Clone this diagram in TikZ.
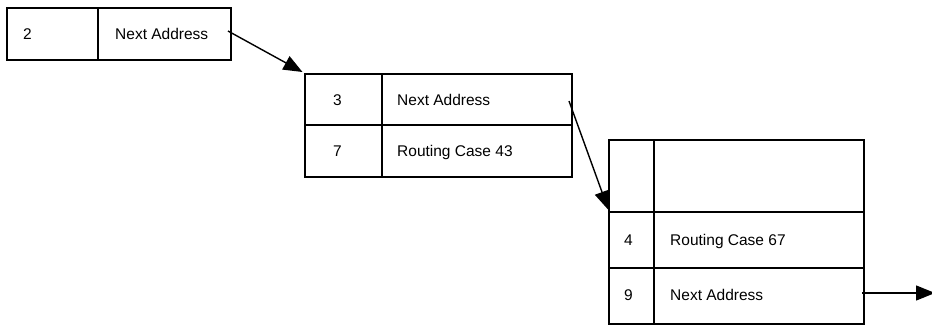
\documentclass[tikz,border=0pt]{standalone}
\usepackage{fontspec}
\setmainfont{Liberation Sans}
\usetikzlibrary{arrows.meta}
\tikzset{
  cell/.style={draw=black, line width=1.8pt, rectangle, inner sep=0pt, outer sep=0pt, anchor=north west},
  lbl/.style={anchor=base west, inner sep=0pt, font=\fontsize{15.5}{18}\selectfont},
  link/.style={draw=black, line width=1.4pt, -{Triangle[length=19pt,width=15pt]}}
}
\begin{document}
\begin{tikzpicture}[x=1pt,y=-1pt]
\useasboundingbox (0,0) rectangle (932,325);
% box 1
\node[cell, minimum width=91pt, minimum height=52pt] (c11) at (7,8) {};
\node[cell, minimum width=133pt, minimum height=52pt] (c12) at (98,8) {};
\node[lbl] (t11) at (23,39.5) {2};
\node[lbl] (t12) at (115,39.5) {Next Address};
% box 2
\node[cell, minimum width=77pt, minimum height=51pt] (c21) at (305,74) {};
\node[cell, minimum width=190pt, minimum height=51pt] (c22) at (382,74) {};
\node[cell, minimum width=77pt, minimum height=52pt] (c23) at (305,125) {};
\node[cell, minimum width=190pt, minimum height=52pt] (c24) at (382,125) {};
\node[lbl] (t21) at (333,105) {3};
\node[lbl] (t22) at (397,105) {Next Address};
\node[lbl] (t23) at (333,156.5) {7};
\node[lbl] (t24) at (397,156.5) {Routing Case 43};
% box 3
\node[cell, minimum width=45pt, minimum height=72pt] (c31) at (609,140) {};
\node[cell, minimum width=210pt, minimum height=72pt] (c32) at (654,140) {};
\node[cell, minimum width=45pt, minimum height=56pt] (c33) at (609,212) {};
\node[cell, minimum width=210pt, minimum height=56pt] (c34) at (654,212) {};
\node[cell, minimum width=45pt, minimum height=56pt] (c35) at (609,268) {};
\node[cell, minimum width=210pt, minimum height=56pt] (c36) at (654,268) {};
\node[lbl] (t33) at (624,245.5) {4};
\node[lbl] (t34) at (670,245.5) {Routing Case 67};
\node[lbl] (t35) at (624,300) {9};
\node[lbl] (t36) at (670,300) {Next Address};
% connectors
\coordinate (s1) at ([xshift=-3pt,yshift=3pt]c12.east);
\coordinate (s2) at ([xshift=-3pt,yshift=-1.5pt]c22.east);
\coordinate (s3) at ([xshift=-2pt,yshift=3pt]c36.east);
\coordinate (e3) at (935,293);
\draw[link] (s1) -- ([xshift=-2.5pt,yshift=2pt]c21.north west);
\draw[link] (s2) -- ([xshift=-0.5pt,yshift=2pt]c33.north west);
\draw[link] (s3) -- (e3);
\end{tikzpicture}
\end{document}
